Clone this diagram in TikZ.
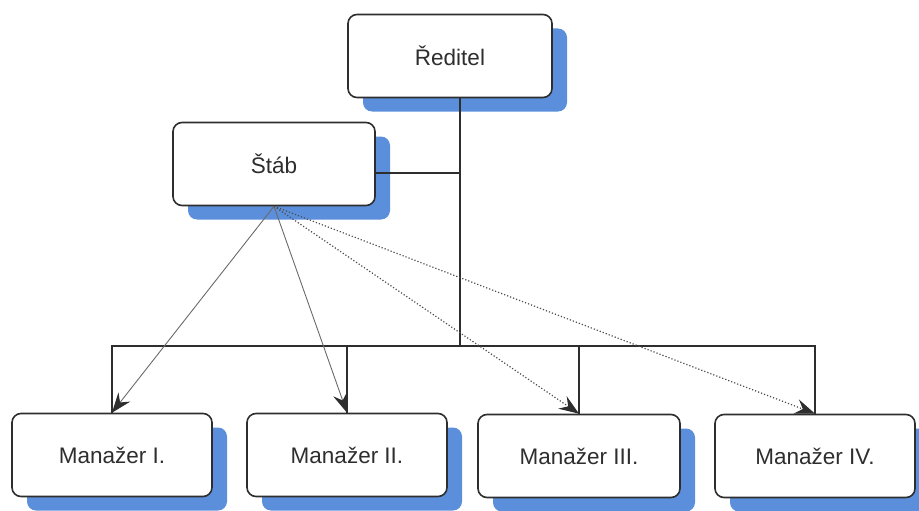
\documentclass[tikz,border=0pt]{standalone}
\usepackage{fontspec}
\setmainfont{Liberation Sans}
\usetikzlibrary{shadows,arrows.meta}
\definecolor{shadowblue}{HTML}{5B8FDB}
\definecolor{ink}{HTML}{2E2E2E}
\definecolor{thinline}{HTML}{6A6A6A}
\begin{document}
\begin{tikzpicture}[x=1pt,y=-1pt,
  orgbox/.style={draw=ink, line width=1.6pt, fill=white, rounded corners=9pt,
    minimum height=83pt, inner sep=0pt, text=ink,
    font=\fontsize{22.5}{26}\selectfont,
    drop shadow={shadow xshift=15pt, shadow yshift=-14pt, fill=shadowblue, opacity=1}},
  tree/.style={draw=ink, line width=1.5pt},
  tipstyle/.style={-{Stealth[length=20pt,width=15pt,inset=7pt,color=ink,line width=1pt]}},
  staff/.style={draw=thinline, line width=0.9pt, tipstyle},
  staffdot/.style={draw=ink!85, line width=1.2pt, dotted, tipstyle}
]
\useasboundingbox (0,0) rectangle (919,511);
\node[orgbox, minimum width=204pt] (red) at (450,56) {Ředitel};
\node[orgbox, minimum width=202pt] (stab) at (274,164) {Štáb};
\node[orgbox, minimum width=200pt] (m1) at (112,455) {Manažer I.};
\node[orgbox, minimum width=200pt] (m2) at (347,455) {Manažer II.};
\node[orgbox, minimum width=202pt] (m3) at (579,456) {Manažer III.};
\node[orgbox, minimum width=200pt] (m4) at (815,456) {Manažer IV.};
\coordinate (j) at (460,346);
% tree lines
\draw[tree] (red.south -| j) -- (j);
\draw[tree] ([yshift=-9pt]stab.east) -- ([yshift=-9pt]stab.east -| j);
\draw[tree] (m1.north) |- (j) -| (m4.north);
\draw[tree] (m2.north |- j) -- (m2.north);
\draw[tree] (m3.north |- j) -- (m3.north);
% staff arrows
\draw[staff] (stab.south) -- (m1.north);
\draw[staff] (stab.south) -- (m2.north);
\draw[staffdot] (stab.south) -- (m3.north);
\draw[staffdot] (stab.south) -- (m4.north);
\end{tikzpicture}
\end{document}
